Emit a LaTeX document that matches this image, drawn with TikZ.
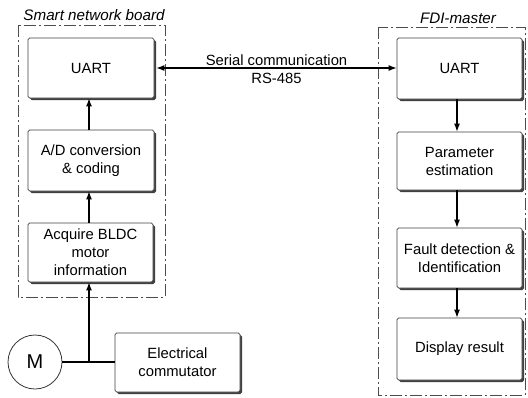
\documentclass[tikz,border=0pt]{standalone}
\usepackage{fontspec}
\setmainfont{Liberation Sans}
\usetikzlibrary{arrows.meta,shadows}
\begin{document}
\begin{tikzpicture}[x=0.5pt,y=-0.5pt,
  every node/.style={font=\fontsize{7.4pt}{9pt}\selectfont},
  blk/.style={draw=black!75, line width=0.35pt, fill=white, rounded corners=0.8pt,
    align=center, inner sep=0pt,
    drop shadow={shadow xshift=1pt, shadow yshift=-1pt, fill=black!75, opacity=1}},
  grp/.style={draw=black!70, line width=0.35pt, dash pattern=on 6pt off 1.5pt on 1pt off 1.5pt},
  conn/.style={line width=0.6pt, -{Latex[length=4pt,width=3pt]}},
  ttl/.style={font=\fontsize{7.6pt}{9pt}\selectfont\itshape}]
\useasboundingbox (0,0) rectangle (528,397);
% groups
\draw[grp] (18,25) rectangle (165,297);
\draw[grp] (378,27) rectangle (525,395);
\node[ttl] (t1) at (94,15) {Smart network board};
\node[ttl] (t2) at (458,18) {FDI-master};
% left blocks
\node[blk, minimum width=63pt, minimum height=30pt] (u1) at (91,68) {UART};
\node[blk, minimum width=63pt, minimum height=30.5pt] (ad) at (91,160.5) {A/D conversion\\\& coding};
\node[blk, minimum width=62.5pt, minimum height=29.5pt] (aq) at (90.5,252.5) {Acquire BLDC\\motor\\information};
\node[blk, minimum width=62.5pt, minimum height=29.5pt] (ec) at (177.5,362.5) {Electrical\\commutator};
\node[draw=black!80, line width=0.4pt, circle, minimum size=27pt, inner sep=0pt, font=\fontsize{10pt}{12pt}\selectfont] (m) at (35,362) {M};
% right blocks
\node[blk, minimum width=62.5pt, minimum height=30.5pt] (u2) at (459.5,68.5) {UART};
\node[blk, minimum width=62.5pt, minimum height=29pt] (pe) at (459.5,161) {Parameter\\estimation};
\node[blk, minimum width=62.5pt, minimum height=30pt] (fd) at (459.5,258) {Fault detection \&\\Identification};
\node[blk, minimum width=62.5pt, minimum height=31pt] (dr) at (459.5,349) {Display result};
% connectors
\coordinate (j) at (89,362);
\draw[line width=0.6pt] (m.east) -- (ec.west |- m.east);
\draw[conn] (j) -- (aq.south -| j);
\draw[conn] (aq.north -| j) -- (ad.south -| j);
\draw[conn] (ad.north -| j) -- (u1.south -| j);
\draw[line width=0.6pt, {Latex[length=4pt,width=3pt]}-{Latex[length=4pt,width=3pt]}] ([xshift=1pt]u1.east) -- node[above, inner sep=1pt] (sl) {Serial communication} node[below, inner sep=2.5pt] (rs) {RS-485} (u2.west |- u1.east);
\draw[conn] (u2.south -| 457,0) -- (pe.north -| 457,0);
\draw[conn] (pe.south -| 457,0) -- (fd.north -| 457,0);
\draw[conn] (fd.south -| 457,0) -- (dr.north -| 457,0);
\end{tikzpicture}
\end{document}
